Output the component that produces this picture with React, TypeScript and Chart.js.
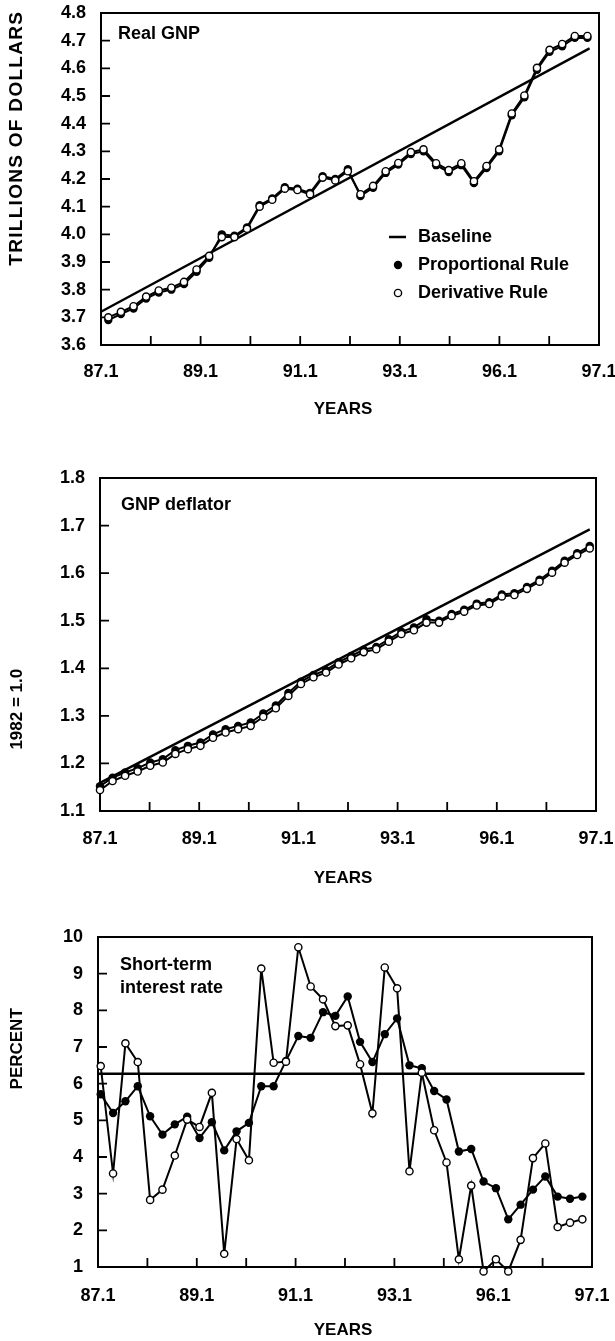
import React, { useEffect, useRef } from 'react';
import { Chart, registerables } from 'chart.js';

Chart.register(...registerables);

const FONT = "'Liberation Sans', Arial, Helvetica, sans-serif";

// Shared x tick labels (one tick per year, every other one labelled)
const X_TICK_LABELS = ['87.1', '', '89.1', '', '91.1', '', '93.1', '', '96.1', '', '97.1'];

// ---- Panel 1: Real GNP (trillions of dollars), quarterly ----
const GNP_PROPORTIONAL = [
  3.69, 3.712, 3.732, 3.768, 3.79, 3.8, 3.82, 3.865, 3.915, 4.0, 3.995, 4.025, 4.105,
  4.13, 4.17, 4.165, 4.15, 4.21, 4.2, 4.235, 4.138, 4.168, 4.222, 4.252, 4.29, 4.3,
  4.25, 4.225, 4.25, 4.185, 4.24, 4.3, 4.43, 4.495, 4.595, 4.66, 4.68, 4.71, 4.71,
];
const GNP_DERIVATIVE = [
  3.7, 3.72, 3.74, 3.775, 3.797, 3.807, 3.828, 3.873, 3.922, 3.99, 3.99, 4.02, 4.1,
  4.125, 4.165, 4.16, 4.145, 4.205, 4.195, 4.228, 4.145, 4.175, 4.228, 4.258, 4.297, 4.307,
  4.257, 4.232, 4.257, 4.192, 4.247, 4.307, 4.437, 4.502, 4.602, 4.667, 4.688, 4.717, 4.717,
];
const GNP_BASELINE = [3.72, 4.672];
const GNP_BASELINE_Q = [0, 38.75];

// ---- Panel 2: GNP deflator (1982 = 1.0) ----
const DEF_DERIVATIVE = [
  1.144, 1.163, 1.174, 1.183, 1.195, 1.202, 1.22, 1.23, 1.237, 1.254, 1.265, 1.272, 1.279,
  1.298, 1.316, 1.342, 1.367, 1.381, 1.391, 1.408, 1.421, 1.434, 1.44, 1.456, 1.472, 1.48,
  1.496, 1.496, 1.51, 1.519, 1.532, 1.535, 1.551, 1.554, 1.567, 1.582, 1.601, 1.622, 1.638, 1.652,
];
const DEF_PROPORTIONAL = [
  1.152, 1.17, 1.181, 1.19, 1.202, 1.209, 1.228, 1.237, 1.244, 1.261, 1.272, 1.279, 1.286,
  1.305, 1.322, 1.348, 1.372, 1.386, 1.396, 1.413, 1.426, 1.439, 1.445, 1.461, 1.477, 1.486,
  1.503, 1.5, 1.514, 1.523, 1.536, 1.539, 1.555, 1.558, 1.571, 1.586, 1.605, 1.626, 1.642, 1.657,
];
const DEF_BASELINE = [1.159, 1.692];
const DEF_BASELINE_Q = [0, 39];

// ---- Panel 3: Short-term interest rate (percent) ----
const RATE_PROPORTIONAL = [
  5.71, 5.2, 5.52, 5.93, 5.11, 4.61, 4.89, 5.1, 4.52, 4.95, 4.18, 4.7, 4.93, 5.93, 5.93,
  6.62, 7.3, 7.25, 7.95, 7.85, 8.38, 7.14, 6.59, 7.35, 7.78, 6.5, 6.42, 5.8, 5.57, 4.15,
  4.22, 3.33, 3.15, 2.3, 2.7, 3.11, 3.47, 2.92, 2.86, 2.92,
];
const RATE_DERIVATIVE = [
  6.48, 3.55, 7.1, 6.59, 2.83, 3.11, 4.04, 5.02, 4.82, 5.75, 1.36, 4.49, 3.91, 9.14, 6.57,
  6.6, 9.72, 8.65, 8.3, 7.57, 7.59, 6.53, 5.19, 9.17, 8.6, 3.61, 6.3, 4.73, 3.85, 1.21,
  3.22, 0.88, 1.21, 0.88, 1.74, 3.97, 4.37, 2.09, 2.21, 2.3,
];
const RATE_BASELINE = [6.27, 6.27];
const RATE_BASELINE_Q = [0, 39.4];

type Panel = {
  top: number;
  height: number;
  area: { l: number; t: number; r: number; b: number };
  xMax: number;
  x0: number;
  xStep: number;
  yMin: number;
  yMax: number;
  yStep: number;
  yDecimals: number;
  prop: number[];
  deriv: number[];
  base: number[];
  baseQ: number[];
  yTitle: string;
  yTitleValue: number;
  yTitleSize: number;
  yTitleSpacing: number;
  yearsOffset: number;
  labels: { text: string; x: number; y: number }[];
  legend: boolean;
  xLabelPad: number;
};

const PANELS: Panel[] = [
  {
    top: 0, height: 430, area: { l: 101, t: 13, r: 599, b: 345 },
    xMax: 39.5, x0: 0.58, xStep: 1,
    yMin: 3.6, yMax: 4.8, yStep: 0.1, yDecimals: 1,
    prop: GNP_PROPORTIONAL, deriv: GNP_DERIVATIVE, base: GNP_BASELINE, baseQ: GNP_BASELINE_Q,
    yTitle: 'TRILLIONS OF DOLLARS', yTitleValue: 4.345, yTitleSize: 19, yTitleSpacing: 1.3,
    yearsOffset: 64,
    labels: [{ text: 'Real GNP', x: 118, y: 34 }],
    legend: true, xLabelPad: 16,
  },
  {
    top: 440, height: 450, area: { l: 100, t: 38, r: 596, b: 371 },
    xMax: 39.5, x0: 0, xStep: 1,
    yMin: 1.1, yMax: 1.8, yStep: 0.1, yDecimals: 1,
    prop: DEF_PROPORTIONAL, deriv: DEF_DERIVATIVE, base: DEF_BASELINE, baseQ: DEF_BASELINE_Q,
    yTitle: '1982 = 1.0', yTitleValue: 1.314, yTitleSize: 17, yTitleSpacing: 0,
    yearsOffset: 67,
    labels: [{ text: 'GNP deflator', x: 121, y: 65 }],
    legend: false, xLabelPad: 17,
  },
  {
    top: 900, height: 441, area: { l: 98, t: 37, r: 592, b: 367 },
    xMax: 40, x0: 0.22, xStep: 1,
    yMin: 1, yMax: 10, yStep: 1, yDecimals: 0,
    prop: RATE_PROPORTIONAL, deriv: RATE_DERIVATIVE, base: RATE_BASELINE, baseQ: RATE_BASELINE_Q,
    yTitle: 'PERCENT', yTitleValue: 6.95, yTitleSize: 17, yTitleSpacing: 0,
    yearsOffset: 63,
    labels: [
      { text: 'Short-term', x: 120, y: 65 },
      { text: 'interest rate', x: 120, y: 88 },
    ],
    legend: false, xLabelPad: 18,
  },
];

function buildConfig(p: Panel): any {
  const { area } = p;
  const deriv = p.deriv.map((v, i) => ({ x: p.x0 + i * p.xStep, y: v }));
  const prop = p.prop.map((v, i) => ({ x: p.x0 + i * p.xStep, y: v }));
  const base = p.base.map((v, i) => ({ x: p.baseQ[i], y: v }));

  const decor = {
    id: 'decor',
    beforeDatasetsDraw(chart: any) {
      const { ctx, chartArea: a, scales } = chart;
      const xs = scales.x;
      const ys = scales.y;
      ctx.save();
      ctx.strokeStyle = '#000';
      ctx.lineWidth = 2;
      ctx.strokeRect(a.left, a.top, a.right - a.left, a.bottom - a.top);
      ctx.lineWidth = 1.8;
      ctx.beginPath();
      ys.ticks.forEach((t: any) => {
        const py = ys.getPixelForValue(t.value);
        if (py > a.top + 2 && py < a.bottom - 2) {
          ctx.moveTo(a.left, py);
          ctx.lineTo(a.left + 9, py);
        }
      });
      xs.ticks.forEach((t: any) => {
        const px = xs.getPixelForValue(t.value);
        if (px > a.left + 2 && px < a.right - 2) {
          ctx.moveTo(px, a.bottom);
          ctx.lineTo(px, a.bottom - 9);
        }
      });
      ctx.stroke();

      ctx.fillStyle = '#000';
      ctx.font = `bold 18px ${FONT}`;
      ctx.textBaseline = 'middle';
      ctx.textAlign = 'left';
      p.labels.forEach((l) => ctx.fillText(l.text, l.x, l.y));

      if (p.legend) {
        const lx = 398;
        const tx = 418;
        const rows = [237, 265, 293];
        ctx.lineWidth = 2.5;
        ctx.beginPath();
        ctx.moveTo(389, rows[0]);
        ctx.lineTo(406, rows[0]);
        ctx.stroke();
        ctx.beginPath();
        ctx.arc(lx, rows[1], 4.2, 0, Math.PI * 2);
        ctx.fill();
        ctx.beginPath();
        ctx.lineWidth = 1.4;
        ctx.arc(lx, rows[2], 3.6, 0, Math.PI * 2);
        ctx.fillStyle = '#fff';
        ctx.fill();
        ctx.stroke();
        ctx.fillStyle = '#000';
        ctx.fillText('Baseline', tx, rows[0]);
        ctx.fillText('Proportional Rule', tx, rows[1]);
        ctx.fillText('Derivative Rule', tx, rows[2]);
      }

      // axis titles
      ctx.font = `bold 17px ${FONT}`;
      ctx.textAlign = 'center';
      ctx.fillText('YEARS', 343, area.b + p.yearsOffset);
      ctx.save();
      ctx.translate(17, ys.getPixelForValue(p.yTitleValue));
      ctx.rotate(-Math.PI / 2);
      ctx.font = `bold ${p.yTitleSize}px ${FONT}`;
      if ('letterSpacing' in ctx) (ctx as any).letterSpacing = `${p.yTitleSpacing}px`;
      ctx.fillText(p.yTitle, p.yTitleSpacing / 2, 0);
      ctx.restore();
      ctx.restore();
    },
  };

  return {
    type: 'line',
    data: {
      datasets: [
        {
          label: 'Derivative Rule',
          data: deriv,
          borderColor: '#000',
          borderWidth: 2,
          pointRadius: 3.6,
          pointBorderWidth: 1.4,
          pointBackgroundColor: '#fff',
          pointBorderColor: '#000',
          tension: 0,
          clip: false,
        },
        {
          label: 'Proportional Rule',
          data: prop,
          borderColor: '#000',
          borderWidth: 2,
          pointRadius: 4.2,
          pointBorderWidth: 0,
          pointBackgroundColor: '#000',
          tension: 0,
          clip: false,
        },
        {
          label: 'Baseline',
          data: base,
          borderColor: '#000',
          borderWidth: 2.4,
          pointRadius: 0,
          tension: 0,
          clip: false,
        },
      ],
    },
    options: {
      animation: false,
      responsive: false,
      maintainAspectRatio: false,
      events: [],
      layout: { padding: { left: 0, top: area.t, right: 615 - area.r, bottom: 0 } },
      plugins: { legend: { display: false }, tooltip: { enabled: false } },
      scales: {
        x: {
          type: 'linear',
          min: 0,
          max: p.xMax,
          grid: { display: false, drawTicks: false },
          border: { display: false },
          afterBuildTicks: (s: any) => {
            s.ticks = X_TICK_LABELS.map((_, k) => ({ value: (k * p.xMax) / 10 }));
          },
          afterFit: (s: any) => {
            s.height = p.height - area.b;
            s.paddingLeft = 0;
            s.paddingRight = 0;
          },
          ticks: {
            autoSkip: false,
            maxRotation: 0,
            padding: p.xLabelPad,
            color: '#000',
            font: { family: FONT, size: 18, weight: 'bold' },
            callback: (_v: any, i: number) => X_TICK_LABELS[i] ?? '',
          },
        },
        y: {
          type: 'linear',
          min: p.yMin,
          max: p.yMax,
          grid: { display: false, drawTicks: false },
          border: { display: false },
          afterFit: (s: any) => {
            s.width = area.l;
            s.paddingTop = 0;
            s.paddingBottom = 0;
          },
          ticks: {
            stepSize: p.yStep,
            padding: 15,
            color: '#000',
            font: { family: FONT, size: 18, weight: 'bold' },
            callback: (v: any) => Number(v).toFixed(p.yDecimals),
          },
        },
      },
    },
    plugins: [decor],
  };
}

function PanelChart({ panel }: { panel: Panel }) {
  const ref = useRef<HTMLCanvasElement | null>(null);
  useEffect(() => {
    if (!ref.current) return;
    const chart = new Chart(ref.current, buildConfig(panel));
    return () => chart.destroy();
  }, [panel]);
  return (
    <canvas
      ref={ref}
      width={615}
      height={panel.height}
      style={{ position: 'absolute', left: 0, top: panel.top, width: 615, height: panel.height }}
    />
  );
}

export default function App() {
  return (
    <div style={{ position: 'absolute', left: 0, top: 0, width: 615, height: 1341, background: '#fff', overflow: 'hidden' }}>
      {PANELS.map((p, i) => (
        <PanelChart key={i} panel={p} />
      ))}
    </div>
  );
}
